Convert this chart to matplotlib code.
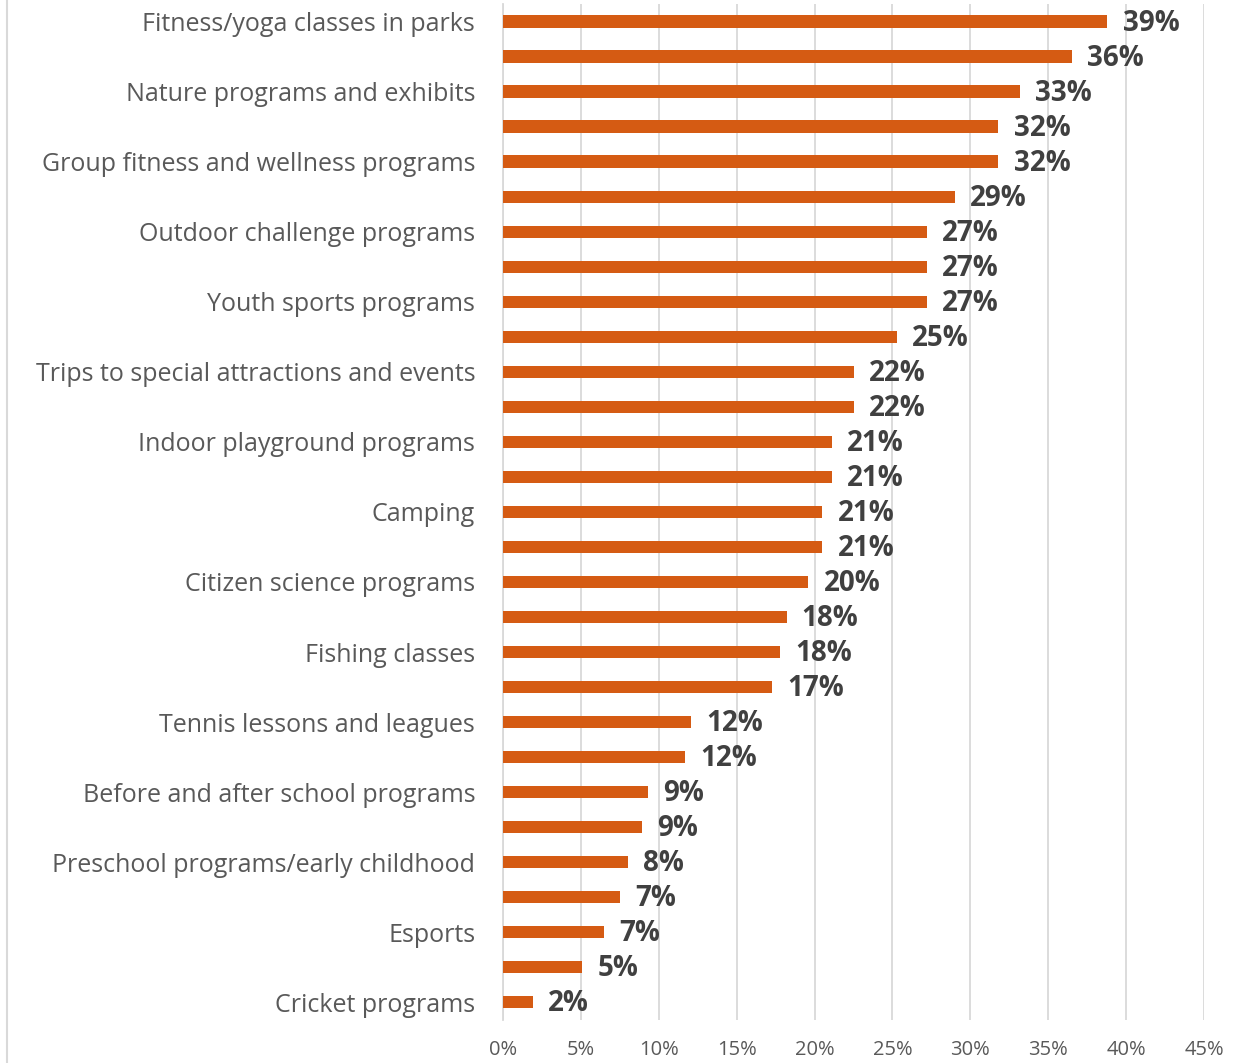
import matplotlib.pyplot as plt
from matplotlib.lines import Line2D
from matplotlib.ticker import FuncFormatter

# every other category label was dropped by the source chart (not enough room)
categories = [
    "Fitness/yoga classes in parks", "",
    "Nature programs and exhibits", "",
    "Group fitness and wellness programs", "",
    "Outdoor challenge programs", "",
    "Youth sports programs", "",
    "Trips to special attractions and events", "",
    "Indoor playground programs", "",
    "Camping", "",
    "Citizen science programs", "",
    "Fishing classes", "",
    "Tennis lessons and leagues", "",
    "Before and after school programs", "",
    "Preschool programs/early childhood", "",
    "Esports", "",
    "Cricket programs",
]
values = [38.8, 36.5, 33.2, 31.8, 31.8, 29.0, 27.2, 27.2, 27.2, 25.3,
          22.5, 22.5, 21.1, 21.1, 20.5, 20.5, 19.6, 18.2, 17.8, 17.3,
          12.1, 11.7, 9.3, 8.9, 8.0, 7.5, 6.5, 5.1, 1.9]
value_labels = ["39%", "36%", "33%", "32%", "32%", "29%", "27%", "27%", "27%", "25%",
                "22%", "22%", "21%", "21%", "21%", "21%", "20%", "18%", "18%", "17%",
                "12%", "12%", "9%", "9%", "8%", "7%", "7%", "5%", "2%"]
xticks = [0, 5, 10, 15, 20, 25, 30, 35, 40, 45]

BAR = "#D55B13"
TEXT = "#595959"
LABEL = "#404040"

plt.rcParams["font.family"] = ["Open Sans", "DejaVu Sans"]

fig = plt.figure(figsize=(12.5, 10.63), dpi=100)
ax = fig.add_axes([0.4024, 0.0409, 0.5608, 0.9549])

y = list(range(len(categories)))
ax.barh(y, values, height=0.37, color=BAR, zorder=3)
for yi, v, lab in zip(y, values, value_labels):
    ax.annotate(lab, (v, yi + 0.03), xytext=(11, 0), textcoords="offset points",
                va="center", ha="left", fontsize=20, fontweight="bold",
                color=LABEL)

ax.set_ylim(len(categories) - 0.5, -0.5)
ax.set_xlim(0, 45)
ax.set_xticks(xticks)
ax.xaxis.set_major_formatter(FuncFormatter(lambda v, p: f"{v:.0f}%"))
ax.set_yticks(y)
ax.set_yticklabels(categories)
ax.tick_params(axis="y", length=0, pad=20, labelsize=18, labelcolor=TEXT)
ax.tick_params(axis="x", length=0, pad=15, labelsize=14.5, labelcolor=TEXT)
ax.grid(axis="x", color="#D9D9D9", lw=1.3, zorder=0)
for s in ("top", "right", "bottom"):
    ax.spines[s].set_visible(False)
ax.spines["left"].set_color("#D9D9D9")
ax.spines["left"].set_linewidth(1.3)

fig.add_artist(Line2D([7 / 1250, 7 / 1250], [0, 1], color="#D9D9D9", lw=1.5))

fig.savefig("out.png", dpi=100)
plt.close(fig)
